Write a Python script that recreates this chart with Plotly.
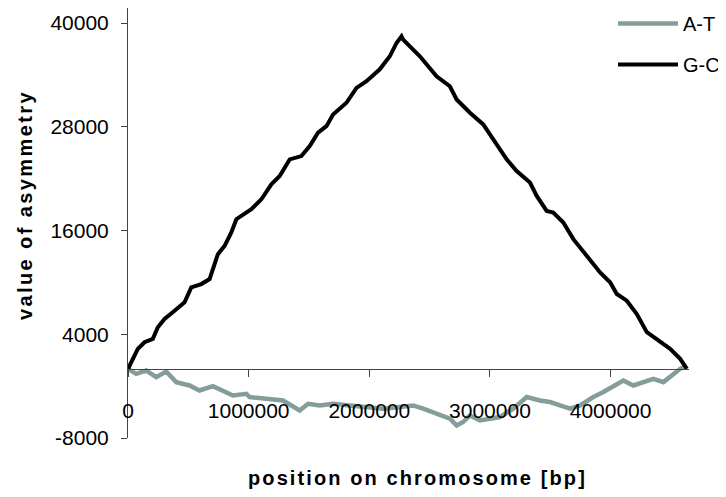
import plotly.graph_objects as go

# cumulative G-C asymmetry along the chromosome
gc_pos = [0, 81300, 136900, 205800, 247300, 302900, 385900, 468900, 524500, 607500,
          676300, 717800, 745200, 800800, 856400, 897900, 1022400, 1105400, 1188400, 1257300,
          1340200, 1437300, 1506200, 1575100, 1644800, 1699600, 1810800, 1893800, 1976800, 2087100,
          2170100, 2225700, 2267200, 2280500, 2419100, 2557700, 2668000, 2723700, 2834000, 2944400,
          3027400, 3138600, 3221600, 3331950, 3387600, 3470500, 3525300, 3608300, 3691300, 3802500,
          3912900, 3995900, 4051500, 4134400, 4217400, 4300400, 4383400, 4493800, 4576800, 4632400]
gc_val = [0, 2308, 3080, 3461, 4811, 5769, 6727, 7696, 9427, 9807,
          10384, 12115, 13269, 14227, 15773, 17307, 18461, 19615, 21345, 22303,
          24230, 24611, 25765, 27311, 28072, 29422, 30772, 32503, 33265, 34649,
          36149, 37695, 38457, 38076, 36149, 33842, 32688, 31153, 29618, 28268,
          26537, 24230, 22880, 21542, 19996, 18265, 18080, 16927, 15000, 13073,
          11157, 10003, 8653, 7880, 6346, 4234, 3461, 2308, 1154, 0]

# cumulative A-T asymmetry
at_pos = [0, 68000, 151000, 234000, 317000, 400000, 510000, 593000, 704000, 787000,
          870000, 981000, 1008000, 1147000, 1285000, 1423000, 1492000, 1589000, 1700000, 1838000,
          1977000, 2115000, 2253000, 2363000, 2447000, 2558000, 2668000, 2724000, 2778000, 2834000,
          2917000, 3000000, 3083000, 3193000, 3305000, 3415000, 3498000, 3581000, 3664000, 3747000,
          3857000, 3940000, 4023000, 4106000, 4189000, 4272000, 4355000, 4438000, 4521000, 4577000,
          4632000]
at_val = [0, -577, -196, -958, -312, -1535, -1927, -2504, -1996, -2504,
          -3081, -2885, -3265, -3461, -3658, -4811, -4038, -4234, -4038, -4234,
          -4419, -4615, -4419, -4234, -4615, -5192, -5769, -6542, -6150, -5388,
          -5965, -5769, -5573, -4615, -3265, -3658, -3842, -4234, -4615, -4234,
          -3265, -2688, -2089, -1350, -1927, -1535, -1154, -1535, -577, 0,
          381]

x_ticks = [0, 1000000, 2000000, 3000000, 4000000]
y_ticks = [-8000, 4000, 16000, 28000, 40000]

FONT = "Arial, Liberation Sans, sans-serif"
Y_MIN, Y_MAX = -8000, 41736

# the page body adds an 8px offset, so the figure is 8px smaller than the window
W, H = 718, 489
L, R, T, B = 120, 37, 0, 59
PW, PH = W - L - R, H - T - B

fig = go.Figure()
fig.add_trace(go.Scatter(x=at_pos, y=at_val, name="A-T", mode="lines",
                         line=dict(color="#849d9b", width=4.5), legendgroup="at"))
fig.add_trace(go.Scatter(x=gc_pos, y=gc_val, name="G-C", mode="lines",
                         line=dict(color="#000000", width=4), legendgroup="gc"))

fig.update_layout(
    width=W, height=H,
    margin=dict(l=L, r=R, t=T, b=B, autoexpand=False),
    plot_bgcolor="white", paper_bgcolor="white",
    font=dict(family=FONT, color="black", size=21),
    showlegend=True,
    legend=dict(x=(605 - L) / PW, y=1 + 4 / PH, xanchor="left", yanchor="top",
                font=dict(size=20), itemwidth=60, tracegroupgap=12,
                bgcolor="rgba(0,0,0,0)"),
    xaxis=dict(range=[0, 4650000], tickvals=x_ticks, ticktext=[str(v) for v in x_ticks],
               showgrid=False, zeroline=False, showline=True, linecolor="#444", linewidth=1,
               ticks="outside", ticklen=7, tickcolor="#444", automargin=False,
               anchor="free", position=(0 - Y_MIN) / (Y_MAX - Y_MIN),
               ticklabelstandoff=16),
    yaxis=dict(range=[Y_MIN, Y_MAX], tickvals=y_ticks, ticktext=[str(v) for v in y_ticks],
               showgrid=False, zeroline=False, showline=True, linecolor="#444", linewidth=1,
               ticks="outside", ticklen=6, tickcolor="#444", ticklabelstandoff=8,
               automargin=False),
)

fig.add_annotation(text='<b><span style="letter-spacing:2.1px">position on chromosome [bp]</span></b>',
                   xref="paper", yref="paper", x=(409 - L) / PW, y=(PH - 470) / PH,
                   showarrow=False, font=dict(size=20), xanchor="center", yanchor="middle")
fig.add_annotation(text='<b><span style="letter-spacing:2.4px">value of asymmetry</span></b>',
                   xref="paper", yref="paper", x=(17 - L) / PW, y=(PH - 197) / PH,
                   showarrow=False, font=dict(size=20), textangle=-90,
                   xanchor="center", yanchor="middle")

fig.write_html("out.html")
